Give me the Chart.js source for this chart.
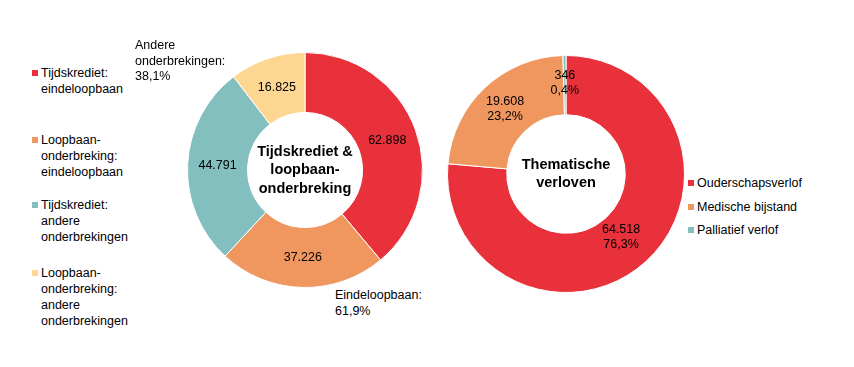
<!DOCTYPE html>
<html>
<head>
<meta charset="utf-8">
<script src="https://cdn.jsdelivr.net/npm/chart.js@4"></script>
<style>
  body { margin: 0; width: 854px; height: 367px; background: #fff; position: relative; overflow: hidden;
         font-family: "Liberation Sans", Arial, sans-serif; font-size: 12.5px; color: #000; }
  .box { position: absolute; }
  .txt { position: absolute; line-height: 15.5px; white-space: nowrap; }
  .lg { position: absolute; line-height: 16px; white-space: nowrap; padding-left: 9px; }
  .lg i { position: absolute; left: 0; top: 5px; width: 6px; height: 6px; }
</style>
</head>
<body>
<div class="box" style="left:187px;top:52px;width:236px;height:236px"><canvas id="left"></canvas></div>
<div class="box" style="left:447px;top:55px;width:238px;height:238px"><canvas id="right"></canvas></div>
<div id="legends"></div>
<div class="txt" id="noteA" style="left:135px;top:38px"></div>
<div class="txt" id="noteB" style="left:335px;top:288px"></div>
<script>
const leftLabels = ['Tijdskrediet:\neindeloopbaan', 'Loopbaan-\nonderbreking:\neindeloopbaan', 'Tijdskrediet:\nandere\nonderbrekingen', 'Loopbaan-\nonderbreking:\nandere\nonderbrekingen'];
const leftValues = [62898, 37226, 44791, 16825];
const leftColors = ['#E8313A', '#F0975F', '#83BFBF', '#FDD791'];
const leftTitle = ['Tijdskrediet &', 'loopbaan-', 'onderbreking'];

const rightLabels = ['Ouderschapsverlof', 'Medische bijstand', 'Palliatief verlof'];
const rightValues = [64518, 19608, 346];
const rightPct = ['76,3%', '23,2%', '0,4%'];
const rightColors = ['#E8313A', '#F0975F', '#83BFBF'];
const rightTitle = ['Thematische', 'verloven'];

function fmt(n) { return String(n).replace(/\B(?=(\d{3})+(?!\d))/g, '.'); }

const leftTotal = leftValues.reduce((a, b) => a + b, 0);
const pctEinde = (leftValues[0] + leftValues[1]) / leftTotal * 100;
const pctAndere = (leftValues[2] + leftValues[3]) / leftTotal * 100;
document.getElementById('noteA').innerHTML = 'Andere<br>onderbrekingen:<br>' + pctAndere.toFixed(1).replace('.', ',') + '%';
document.getElementById('noteB').innerHTML = 'Eindeloopbaan:<br>' + pctEinde.toFixed(1).replace('.', ',') + '%';

// html legends
const lg = document.getElementById('legends');
const leftTops = [65, 132, 197, 265];
leftLabels.forEach((l, i) => {
  const d = document.createElement('div');
  d.className = 'lg';
  d.style.left = '32px'; d.style.top = leftTops[i] + 'px';
  d.innerHTML = '<i style="background:' + leftColors[i] + '"></i>' + l.replace(/\n/g, '<br>');
  lg.appendChild(d);
});
rightLabels.forEach((l, i) => {
  const d = document.createElement('div');
  d.className = 'lg';
  d.style.left = '688px'; d.style.top = (175 + i * 23.5) + 'px';
  d.innerHTML = '<i style="background:' + rightColors[i] + '"></i>' + l;
  lg.appendChild(d);
});

const labelsPlugin = {
  id: 'labels',
  afterDatasetsDraw(chart, args, opts) {
    const ctx = chart.ctx;
    const meta = chart.getDatasetMeta(0);
    ctx.save();
    ctx.fillStyle = '#000';
    ctx.textAlign = 'center';
    ctx.textBaseline = 'middle';
    ctx.font = '12.5px "Liberation Sans", Arial, sans-serif';
    meta.data.forEach((arc, i) => {
      const p = arc.tooltipPosition();
      const lines = opts.lines(i);
      const off = opts.offsets ? opts.offsets[i] : [0, 0];
      lines.forEach((t, k) => {
        ctx.fillText(t, p.x + off[0], p.y + off[1] + (k - (lines.length - 1) / 2) * 15);
      });
    });
    const c = meta.data[0];
    ctx.font = 'bold 14.5px "Liberation Sans", Arial, sans-serif';
    opts.title.forEach((t, k) => {
      ctx.fillText(t, c.x, c.y + (k - (opts.title.length - 1) / 2) * 18.5);
    });
    ctx.restore();
  }
};

function makeChart(id, values, colors, cutout, plug) {
  return new Chart(document.getElementById(id), {
    type: 'doughnut',
    data: {
      labels: values.map((v, i) => i),
      datasets: [{ data: values, backgroundColor: colors, borderColor: '#fff', borderWidth: 1 }]
    },
    options: {
      responsive: true,
      maintainAspectRatio: false,
      animation: false,
      cutout: cutout,
      layout: { padding: 0 },
      plugins: { legend: { display: false }, tooltip: { enabled: false }, labels: plug }
    },
    plugins: [labelsPlugin]
  });
}

makeChart('left', leftValues, leftColors, '49%', {
  lines: i => [fmt(leftValues[i])],
  title: leftTitle
});
makeChart('right', rightValues, rightColors, '50%', {
  lines: i => [fmt(rightValues[i]), rightPct[i]],
  offsets: [[-5, -2], [0, 0], [0, -2]],
  title: rightTitle
});
</script>
</body>
</html>
